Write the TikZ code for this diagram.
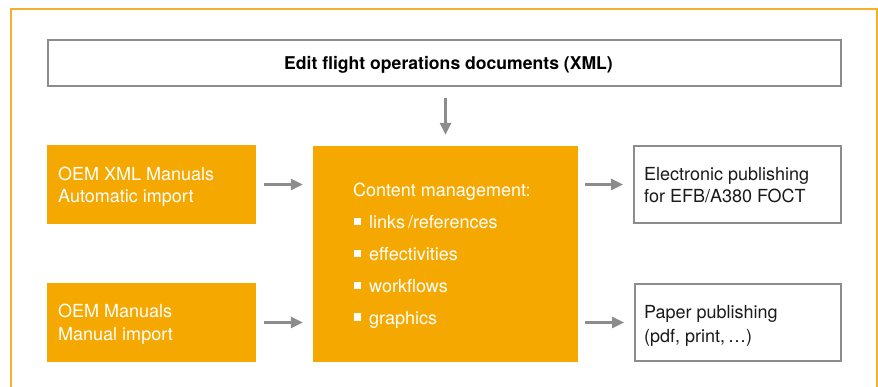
\documentclass[tikz,border=0pt]{standalone}
\usepackage{fontspec}
\setmainfont{TeX Gyre Heros}
\usetikzlibrary{arrows.meta}
\definecolor{orng}{HTML}{F5A800}
\definecolor{frameorng}{HTML}{F7B02A}
\definecolor{grayc}{HTML}{8C8C8C}
\definecolor{txt}{HTML}{1A1A1A}
\begin{document}
\begin{tikzpicture}[x=1pt,y=-1pt,
  font=\fontsize{18}{22}\selectfont,
  obox/.style={draw=none, fill=orng, inner sep=0pt},
  wbox/.style={draw=grayc, line width=2pt, fill=white, inner sep=0pt},
  wtxt/.style={anchor=base west, inner sep=0pt, text=white},
  btxt/.style={anchor=base west, inner sep=0pt, text=txt},
  bul/.style={fill=white, minimum size=7pt, inner sep=0pt, draw=none},
  arr/.style={draw=grayc, line width=2.5pt, -{Triangle[length=12pt,width=11pt]}}
]
\useasboundingbox (0,0) rectangle (878,387);
\draw[frameorng, line width=1.5pt] (11,392) -- (11,9) -- (877,9) -- (877,392);

\node[wbox, minimum width=793pt, minimum height=46pt] (title) at (444.5,63) {};
\node[anchor=base, inner sep=0pt, text=black, font=\fontsize{17.6}{22}\selectfont\bfseries] (titletxt) at (448.5,70) {Edit flight operations documents (XML)};

\node[obox, minimum width=209pt, minimum height=79pt] (oem1) at (151.5,184.5) {};
\node[obox, minimum width=209pt, minimum height=79pt] (oem2) at (151.5,322.5) {};
\node[obox, minimum width=265pt, minimum height=216pt] (cm) at (445.5,254) {};
\node[wbox, minimum width=207pt, minimum height=77pt] (epub) at (737.5,184.5) {};
\node[wbox, minimum width=206pt, minimum height=77pt] (ppub) at (738,322.5) {};

\node[wtxt] (t1a) at (58,181) {OEM XML Manuals};
\node[wtxt] (t1b) at (58,203) {Automatic import};
\node[wtxt] (t2a) at (58,318) {OEM Manuals};
\node[wtxt] (t2b) at (58,341) {Manual import};

\node[btxt] (e1) at (644,181) {Electronic publishing};
\node[btxt] (e2) at (644,203) {for EFB/A380 FOCT};
\node[btxt] (p1) at (644,319) {Paper publishing};
\node[btxt] (p2) at (644,342) {(pdf, print,\,\ldots)};

\node[wtxt] (cmh) at (353,197) {Content management:};
\node[bul] (b1) at (357.5,222) {};
\node[wtxt] (i1) at (369,229) {links\thinspace/references};
\node[bul] (b2) at (357.5,254) {};
\node[wtxt] (i2) at (369,261) {effectivities};
\node[bul] (b3) at (357.5,286) {};
\node[wtxt] (i3) at (369,293) {workflows};
\node[bul] (b4) at (357.5,317) {};
\node[wtxt] (i4) at (369,324) {graphics};

\draw[arr, shorten <=11pt, shorten >=11pt] (title.south -| cm.north) -- (cm.north);
\draw[arr, shorten <=8pt, shorten >=10pt] (oem1.east) -- (oem1.east -| cm.west);
\draw[arr, shorten <=8pt, shorten >=10pt] (oem2.east) -- (oem2.east -| cm.west);
\draw[arr, shorten <=7pt, shorten >=10pt] (cm.east |- epub.west) -- (epub.west);
\draw[arr, shorten <=7pt, shorten >=10pt] (cm.east |- ppub.west) -- (ppub.west);
\end{tikzpicture}
\end{document}
